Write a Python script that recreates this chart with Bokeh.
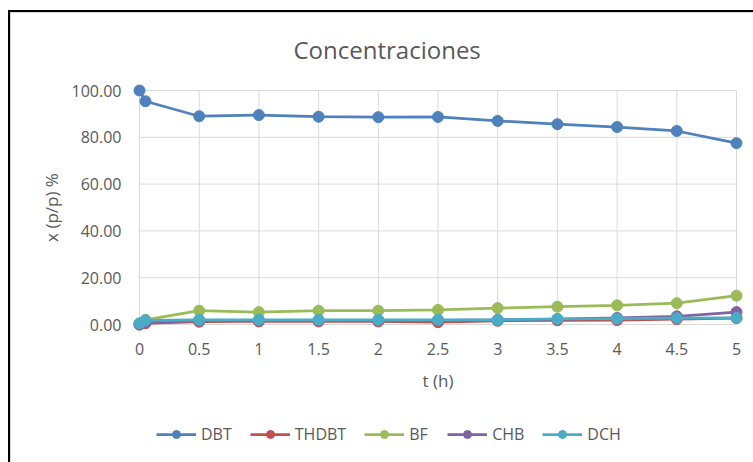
from bokeh.plotting import figure
from bokeh.models import Legend, FixedTicker
from bokeh.layouts import column
from bokeh.embed import file_html
from bokeh.resources import INLINE

# ---- data ----
t = [0, 0.05, 0.5, 1, 1.5, 2, 2.5, 3, 3.5, 4, 4.5, 5]
DBT = [100.0, 95.4, 89.0, 89.5, 88.8, 88.6, 88.7, 87.0, 85.6, 84.4, 82.7, 77.5]
THDBT = [0.0, 0.5, 1.2, 1.3, 1.3, 1.3, 1.0, 1.6, 1.8, 1.9, 2.3, 2.7]
BF = [0.3, 2.0, 5.9, 5.3, 5.9, 5.9, 6.2, 7.0, 7.6, 8.2, 9.1, 12.3]
CHB = [0.0, 0.8, 1.7, 1.7, 1.7, 1.8, 1.8, 2.0, 2.3, 2.8, 3.5, 5.3]
DCH = [0.5, 1.8, 2.0, 2.0, 2.0, 2.0, 2.0, 2.0, 2.4, 2.5, 2.7, 2.8]

series_names = ["DBT", "THDBT", "BF", "CHB", "DCH"]
series_values = [DBT, THDBT, BF, CHB, DCH]
colors = ["#4F81BD", "#C0504D", "#9BBB59", "#8064A2", "#4BACC6"]

x_ticks = [0, 0.5, 1, 1.5, 2, 2.5, 3, 3.5, 4, 4.5, 5]
x_tick_labels = ["0", "0.5", "1", "1.5", "2", "2.5", "3", "3.5", "4", "4.5", "5"]
y_ticks = [0, 20, 40, 60, 80, 100]
y_tick_labels = ["0.00", "20.00", "40.00", "60.00", "80.00", "100.00"]

title_text = "Concentraciones"
x_label = "t (h)"
y_label = "x (p/p) %"

# ---- layout ----
FONT = "Open Sans"
TXT = "#595959"
GRID = "#D9D9D9"

W, H = 743, 390          # main chart canvas
LH = 60                  # legend strip canvas
frame_left, frame_right = 121, 734
frame_top, frame_bottom = 70, 320
pad = 8  # px of room around the axis limits so markers are not clipped

fw = frame_right - frame_left
fh = frame_bottom - frame_top
x0, x1 = x_ticks[0], x_ticks[-1]
y0, y1 = y_ticks[0], y_ticks[-1]
xpp = (x1 - x0) / (fw - 2 * pad)
ypp = (y1 - y0) / (fh - 2 * pad)

p = figure(
    width=W, height=H,
    x_range=(x0 - pad * xpp, x1 + pad * xpp),
    y_range=(y0 - pad * ypp, y1 + pad * ypp),
    output_backend="svg", toolbar_location=None,
    min_border_left=frame_left, min_border_right=W - frame_right,
    min_border_top=frame_top, min_border_bottom=H - frame_bottom,
)
p.outline_line_color = None
p.xgrid.visible = False
p.ygrid.visible = False
p.background_fill_color = "white"
p.border_fill_color = "white"

# title, centred over the whole chart area rather than the plot frame
p.title.text = title_text
p.title.text_font = FONT
p.title.text_font_size = "24px"
p.title.text_font_style = "normal"
p.title.text_color = TXT
p.title.align = "left"
p.title.offset = 162
p.title.standoff = 33

# gridlines restricted to the axis limits
p.segment(x0=[x0] * len(y_ticks), x1=[x1] * len(y_ticks), y0=y_ticks, y1=y_ticks,
          line_color=GRID, line_width=1)
p.segment(x0=x_ticks, x1=x_ticks, y0=[y0] * len(x_ticks), y1=[y1] * len(x_ticks),
          line_color=GRID, line_width=1)

for name, vals, c in zip(series_names, series_values, colors):
    p.line(t, vals, line_color=c, line_width=2.75)
    p.scatter(t, vals, size=11, fill_color=c, line_color=c)

# axes
for ax in (p.xaxis[0], p.yaxis[0]):
    ax.axis_line_color = None
    ax.major_tick_line_color = None
    ax.minor_tick_line_color = None
    ax.major_tick_out = 0
    ax.major_label_text_font = FONT
    ax.major_label_text_font_size = "16px"
    ax.major_label_text_color = TXT
    ax.axis_label_text_font = FONT
    ax.axis_label_text_font_size = "17px"
    ax.axis_label_text_font_style = "normal"
    ax.axis_label_text_color = TXT

p.xaxis.ticker = FixedTicker(ticks=x_ticks)
p.xaxis.major_label_overrides = dict(zip(x_ticks, x_tick_labels))
p.xaxis.major_label_standoff = 10
p.xaxis.axis_label = x_label
p.xaxis.axis_label_standoff = 11

p.yaxis.ticker = FixedTicker(ticks=y_ticks)
p.yaxis.major_label_overrides = dict(zip(y_ticks, y_tick_labels))
p.yaxis.major_label_standoff = 10
p.yaxis.axis_label = y_label
p.yaxis.axis_label_standoff = 6

# ---- legend strip below the chart (its renderers hold no drawable point) ----
NAN = float("nan")
leg = figure(
    width=W, height=LH, output_backend="svg", toolbar_location=None,
    x_axis_location=None, y_axis_location=None,
    min_border=0, outline_line_color=None,
    x_range=(0, 1), y_range=(0, 1),
)
leg.xgrid.visible = False
leg.ygrid.visible = False
leg.border_fill_color = "white"
legend_items = []
for name, c in zip(series_names, colors):
    l = leg.line([NAN], [NAN], line_color=c, line_width=2.75)
    s = leg.scatter([NAN], [NAN], size=11, fill_color=c, line_color=c)
    legend_items.append((name, [l, s]))

legend = Legend(
    items=legend_items, orientation="horizontal",
    location=(25, 17),
    glyph_width=40, glyph_height=20, label_standoff=5, spacing=18,
    padding=0, margin=0, border_line_color=None, background_fill_alpha=0,
    label_text_font=FONT, label_text_font_size="16px", label_text_color=TXT,
)
leg.add_layout(legend, "center")

layout = column(p, leg, spacing=0)
layout.styles = {
    "margin-left": "8px",
    "margin-top": "10px",
    "border-left": "2px solid #000",
    "border-top": "2px solid #000",
    "box-shadow": "inset 1px 1px 0 #C8C8C8",
}

open("out.html", "w").write(file_html(layout, INLINE))
